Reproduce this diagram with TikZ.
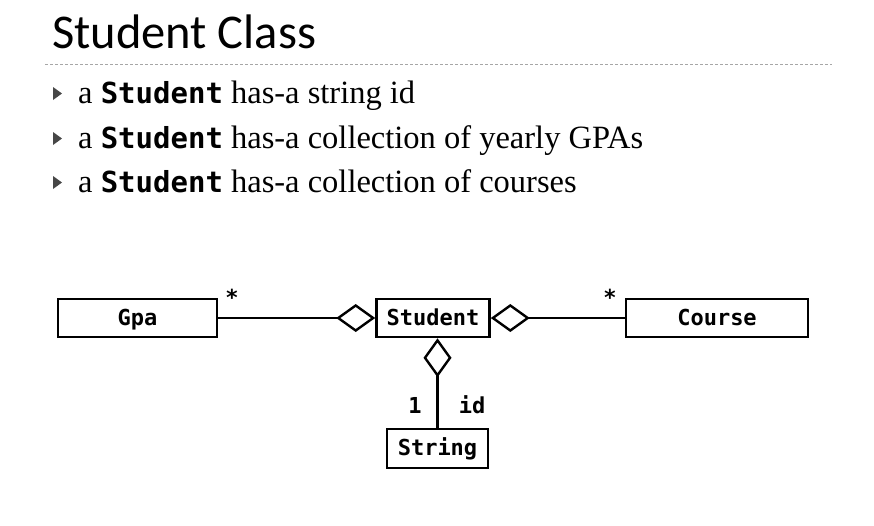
\documentclass[tikz,border=0pt]{standalone}
\usepackage{fontspec}
\setmainfont{Liberation Serif}
\setmonofont{DejaVu Sans Mono}
\newfontfamily\titlefont{Carlito}
\usetikzlibrary{arrows.meta}

\newcommand{\cls}[1]{{\fontsize{29}{34}\selectfont\texttt{\bfseries #1}}}

\begin{document}
\begin{tikzpicture}[x=1pt, y=-1pt,
	umlbox/.style={draw, line width=2.6pt, minimum height=38pt, inner sep=0pt, text height=18pt, text depth=4pt, font=\ttfamily\bfseries\fontsize{22}{26}\selectfont},
	lbl/.style={inner sep=0pt, font=\ttfamily\bfseries\fontsize{22}{26}\selectfont},
	aggr/.style={line width=2.4pt, {Diamond[open, length=39pt, width=28pt]}-},
	item/.style={anchor=base west, inner sep=0pt, font=\fontsize{32.5}{38}\selectfont},
	tri/.style={fill=black!72}]
	\useasboundingbox (0,0) rectangle (874,525);
	% heading
	\node[anchor=base west, inner sep=0pt, font=\titlefont\fontsize{48.5}{58}\selectfont] (title) at (52,48) {Student Class};
	\draw[black!35, dash pattern=on 3pt off 2pt, line width=0.8pt] (45,64) -- (832,64);
	% bullets
	\fill[tri] (53,87) -- (62,93.5) -- (53,100) -- cycle;
	\node[item] (b1) at (78,103) {a \cls{Student} has-a string id};
	\fill[tri] (53,132) -- (62,138.5) -- (53,145) -- cycle;
	\node[item] (b2) at (78,148) {a \cls{Student} has-a collection of yearly GPAs};
	\fill[tri] (53,176) -- (62,182.5) -- (53,189) -- cycle;
	\node[item] (b3) at (78,192) {a \cls{Student} has-a collection of courses};
	% classes
	\node[umlbox, minimum width=159pt] (gpa) at (137.5,318) {Gpa};
	\node[umlbox, minimum width=113pt] (student) at (433,318) {Student};
	\node[umlbox, minimum width=182pt] (course) at (717,318) {Course};
	\node[umlbox, minimum width=101pt, minimum height=39pt] (string) at (437.5,448.5) {String};
	\coordinate (top) at (string.north |- student.south);
	% associations
	\draw[aggr] (student.west) -- (gpa.east);
	\draw[aggr] (student.east) -- (course.west);
	\draw[aggr] (top) -- (string.north);
	\node[lbl] (m1) at (232,297) {*};
	\node[lbl] (m2) at (610,297) {*};
	\node[lbl] (one) at (415,405) {1};
	\node[lbl] (role) at (472,405) {id};
\end{tikzpicture}
\end{document}
